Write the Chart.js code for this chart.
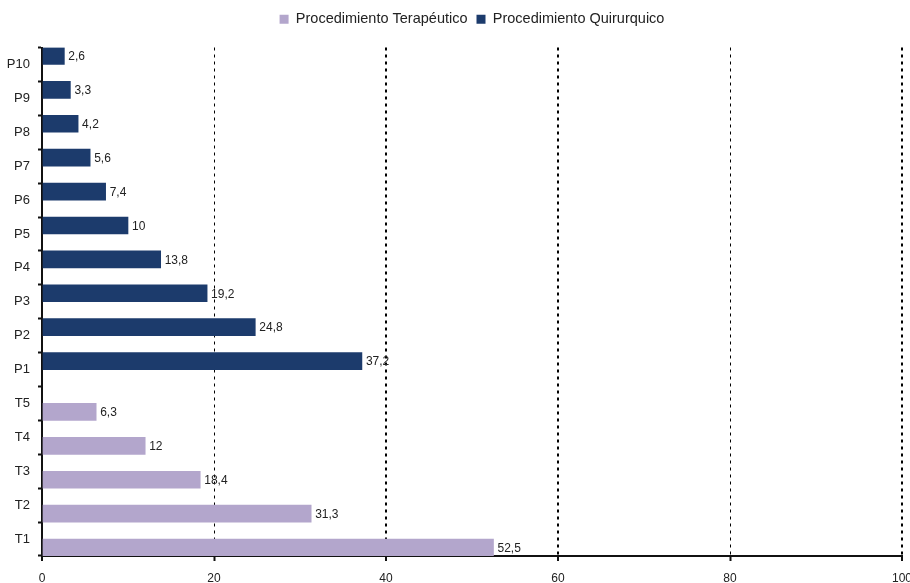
<!DOCTYPE html>
<html lang="es">
<head>
<meta charset="utf-8">
<title>Procedimientos</title>
<script src="https://cdn.jsdelivr.net/npm/chart.js@4.4.1/dist/chart.umd.min.js"></script>
<style>
    html, body { margin: 0; padding: 0; background: #ffffff; }
    #chartBox { position: relative; width: 910px; height: 583px; overflow: hidden; }
</style>
</head>
<body>
<div id="chartBox"><canvas id="procChart"></canvas></div>
<script>
// Categories, top to bottom
const categories = ['P10', 'P9', 'P8', 'P7', 'P6', 'P5', 'P4', 'P3', 'P2', 'P1', 'T5', 'T4', 'T3', 'T2', 'T1'];

// Series values (null where the series has no bar)
const quirurgicoValues = [2.6, 3.3, 4.2, 5.6, 7.4, 10, 13.8, 19.2, 24.8, 37.2, null, null, null, null, null];
const terapeuticoValues = [null, null, null, null, null, null, null, null, null, null, 6.3, 12, 18.4, 31.3, 52.5];

// X axis ticks
const xTicks = [0, 20, 40, 60, 80, 100];

const FONT = '"Liberation Sans", Arial, sans-serif';
const TEXT_COLOR = '#222222';
const AXIS_COLOR = '#111111';

/**
 * Draws the value next to the end of every bar, with a decimal comma.
 */
const valueLabels = {
    id: 'valueLabels',
    afterDatasetsDraw(chart) {
        const ctx = chart.ctx;
        ctx.save();
        ctx.font = '12px ' + FONT;
        ctx.fillStyle = TEXT_COLOR;
        ctx.textAlign = 'left';
        ctx.textBaseline = 'middle';
        chart.data.datasets.forEach((ds, i) => {
            const meta = chart.getDatasetMeta(i);
            meta.data.forEach((bar, j) => {
                const v = ds.data[j];
                if (v === null || v === undefined) return;
                ctx.fillText(String(v).replace('.', ','), bar.x + 4, bar.y + 1);
            });
        });
        ctx.restore();
    }
};

/**
 * Leaves some extra room under the legend.
 */
const legendGap = {
    id: 'legendGap',
    beforeInit(chart) {
        const originalFit = chart.legend.fit;
        chart.legend.fit = function fit() {
            originalFit.bind(chart.legend)();
            this.height += 11;
        };
    }
};

function renderProcChart() {
    new Chart(document.getElementById('procChart'), {
        type: 'bar',
        data: {
            labels: categories,
            datasets: [{
                label: 'Procedimiento Quirurquico',
                data: quirurgicoValues,
                backgroundColor: '#1c3b6c',
                categoryPercentage: 1,
                barPercentage: 1
            }, {
                label: 'Procedimiento Terapéutico',
                data: terapeuticoValues,
                backgroundColor: '#b3a6cc',
                categoryPercentage: 1,
                barPercentage: 1
            }]
        },
        options: {
            indexAxis: 'y',
            responsive: true,
            maintainAspectRatio: false,
            animation: false,
            layout: { padding: { left: 0, right: 0, top: 3, bottom: 0 } },
            plugins: {
                tooltip: { enabled: false },
                legend: {
                    position: 'top',
                    fullSize: false, // centred over the plot area, not the page
                    reverse: true,   // Terapéutico is listed first
                    labels: {
                        boxWidth: 9,
                        boxHeight: 9,
                        padding: 9,
                        color: TEXT_COLOR,
                        font: { family: FONT, size: 14.5 }
                    }
                }
            },
            scales: {
                x: {
                    type: 'linear',
                    min: 0,
                    max: 100,
                    afterBuildTicks: (scale) => {
                        scale.ticks = xTicks.map(v => ({ value: v }));
                    },
                    afterFit: (scale) => {
                        scale.height = 27;
                        scale.paddingRight = 8; // let the "100" label run off the edge
                    },
                    ticks: {
                        color: TEXT_COLOR,
                        padding: 10,
                        font: { family: FONT, size: 12 }
                    },
                    grid: {
                        color: (c) => (c.tick && c.tick.value === 0 ? 'rgba(0,0,0,0)' : '#000000'),
                        lineWidth: (c) => (c.tick && (c.tick.value === 20 || c.tick.value === 80) ? 1 : 2),
                        drawTicks: true,
                        tickLength: 5,
                        tickColor: AXIS_COLOR,
                        tickWidth: 2
                    },
                    border: { display: true, color: AXIS_COLOR, width: 2, dash: [3, 4] }
                },
                y: {
                    afterFit: (scale) => {
                        scale.width = 42;
                    },
                    ticks: {
                        color: TEXT_COLOR,
                        padding: 8,
                        font: { family: FONT, size: 13 }
                    },
                    grid: {
                        offset: true,
                        drawOnChartArea: false,
                        drawTicks: true,
                        tickLength: 4,
                        tickColor: AXIS_COLOR,
                        tickWidth: 2
                    },
                    border: { display: true, color: AXIS_COLOR, width: 2 }
                }
            }
        },
        plugins: [valueLabels, legendGap]
    });
}

document.addEventListener('DOMContentLoaded', () => {
    renderProcChart();
});
</script>
</body>
</html>
